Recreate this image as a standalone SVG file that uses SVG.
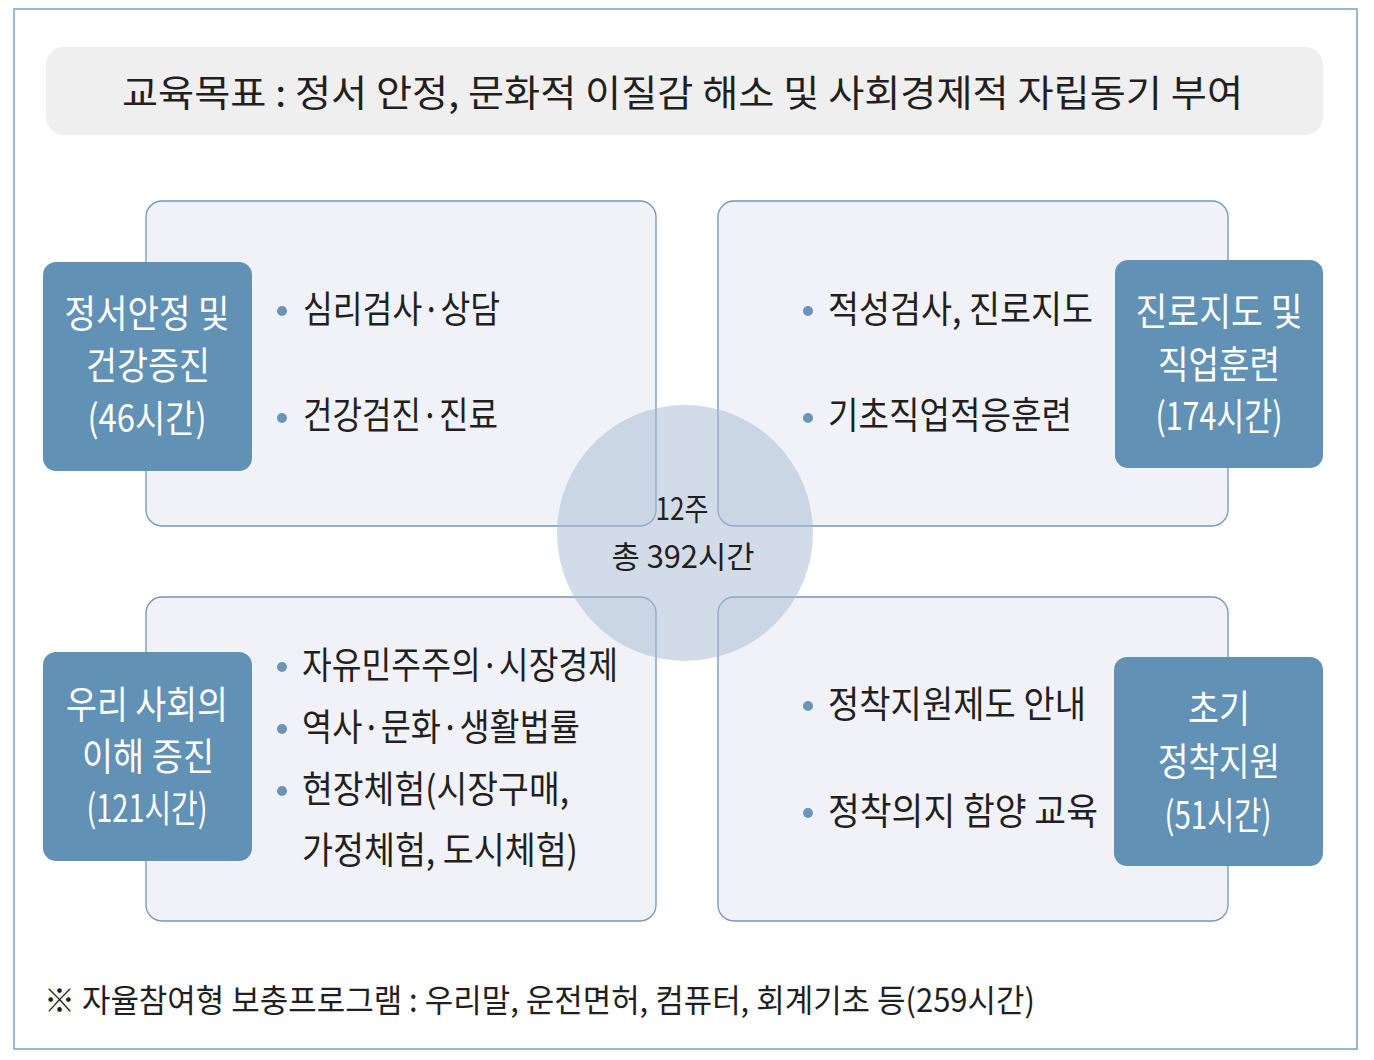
<svg xmlns="http://www.w3.org/2000/svg" width="1374" height="1060" viewBox="0 0 1374 1060">
<style>
text{font-family:"Noto Sans CJK KR","Noto Sans",sans-serif;}
.frame{fill:#ffffff;stroke:#7d9fbd;stroke-width:1.5;}
.banner{fill:#efefef;}
.quad{fill:#f0f2f7;stroke:#7196b8;stroke-width:1.3;}
.label{fill:#6191b5;}
.lt{fill:#ffffff;font-size:38px;text-anchor:middle;}
.bt{fill:#231f20;font-size:37px;}
.dot{fill:#6995bb;}
.title{fill:#231f20;font-size:37px;}
.ct{fill:#231f20;font-size:31px;text-anchor:middle;}
.ft{fill:#231f20;font-size:32px;}
</style>
<rect class="frame" x="14" y="9" width="1343" height="1040"/>
<g id="goal">
<rect class="banner" x="46" y="47" width="1277" height="88" rx="18"/>
<text class="title" x="122" y="107" textLength="1121" lengthAdjust="spacingAndGlyphs">교육목표 : 정서 안정, 문화적 이질감 해소 및 사회경제적 자립동기 부여</text>
</g>
<g id="quadrants">
<rect id="q-tl" class="quad" x="146" y="201" width="510" height="325" rx="16"/>
<rect id="q-tr" class="quad" x="718" y="201" width="510" height="325" rx="16"/>
<rect id="q-bl" class="quad" x="146" y="597" width="510" height="324" rx="16"/>
<rect id="q-br" class="quad" x="718" y="597" width="510" height="324" rx="16"/>
</g>
<g id="center">
<circle cx="685" cy="533" r="128" fill="#a9bcd4" fill-opacity="0.52"/>
<text class="ct" x="682" y="520" textLength="53" lengthAdjust="spacingAndGlyphs">12주</text>
<text class="ct" x="683" y="568" textLength="143" lengthAdjust="spacingAndGlyphs">총 392시간</text>
</g>
<g id="node-tl">
<rect class="label" x="43" y="262" width="209" height="209" rx="13"/>
<text class="lt" x="147" y="327" textLength="165" lengthAdjust="spacingAndGlyphs">정서안정 및</text>
<text class="lt" x="148" y="379" textLength="124" lengthAdjust="spacingAndGlyphs">건강증진</text>
<text class="lt" x="147" y="432" textLength="119" lengthAdjust="spacingAndGlyphs">(46시간)</text>
<circle class="dot" cx="282" cy="311" r="5"/>
<text class="bt" x="303" y="323" textLength="197" lengthAdjust="spacingAndGlyphs">심리검사·상담</text>
<circle class="dot" cx="282" cy="418" r="5"/>
<text class="bt" x="303" y="429" textLength="195" lengthAdjust="spacingAndGlyphs">건강검진·진료</text>
</g>
<g id="node-tr">
<rect class="label" x="1115" y="260" width="208" height="208" rx="13"/>
<text class="lt" x="1219" y="325" textLength="167" lengthAdjust="spacingAndGlyphs">진로지도 및</text>
<text class="lt" x="1219" y="378" textLength="122" lengthAdjust="spacingAndGlyphs">직업훈련</text>
<text class="lt" x="1219" y="430" textLength="127" lengthAdjust="spacingAndGlyphs">(174시간)</text>
<circle class="dot" cx="808" cy="311" r="5"/>
<text class="bt" x="828" y="323" textLength="265" lengthAdjust="spacingAndGlyphs">적성검사, 진로지도</text>
<circle class="dot" cx="808" cy="418" r="5"/>
<text class="bt" x="828" y="429" textLength="244" lengthAdjust="spacingAndGlyphs">기초직업적응훈련</text>
</g>
<g id="node-bl">
<rect class="label" x="43" y="652" width="209" height="209" rx="13"/>
<text class="lt" x="147" y="718" textLength="162" lengthAdjust="spacingAndGlyphs">우리 사회의</text>
<text class="lt" x="148" y="770" textLength="132" lengthAdjust="spacingAndGlyphs">이해 증진</text>
<text class="lt" x="147" y="822" textLength="121" lengthAdjust="spacingAndGlyphs">(121시간)</text>
<circle class="dot" cx="282" cy="667" r="5"/>
<text class="bt" x="302" y="679" textLength="316" lengthAdjust="spacingAndGlyphs">자유민주주의·시장경제</text>
<circle class="dot" cx="282" cy="729" r="5"/>
<text class="bt" x="302" y="741" textLength="278" lengthAdjust="spacingAndGlyphs">역사·문화·생활법률</text>
<circle class="dot" cx="282" cy="791" r="5"/>
<text class="bt" x="302" y="803" textLength="267" lengthAdjust="spacingAndGlyphs">현장체험(시장구매,</text>
<text class="bt" x="302" y="864" textLength="276" lengthAdjust="spacingAndGlyphs">가정체험, 도시체험)</text>
</g>
<g id="node-br">
<rect class="label" x="1114" y="657" width="209" height="209" rx="13"/>
<text class="lt" x="1219" y="722" textLength="62" lengthAdjust="spacingAndGlyphs">초기</text>
<text class="lt" x="1219" y="775" textLength="122" lengthAdjust="spacingAndGlyphs">정착지원</text>
<text class="lt" x="1218" y="829" textLength="107" lengthAdjust="spacingAndGlyphs">(51시간)</text>
<circle class="dot" cx="808" cy="706" r="5"/>
<text class="bt" x="828" y="718" textLength="258" lengthAdjust="spacingAndGlyphs">정착지원제도 안내</text>
<circle class="dot" cx="808" cy="813" r="5"/>
<text class="bt" x="828" y="825" textLength="270" lengthAdjust="spacingAndGlyphs">정착의지 함양 교육</text>
</g>
<g id="connectors"></g>
<g id="note">
<text class="ft" x="44" y="1012" textLength="991" lengthAdjust="spacingAndGlyphs">※ 자율참여형 보충프로그램 : 우리말, 운전면허, 컴퓨터, 회계기초 등(259시간)</text>
</g>
</svg>
